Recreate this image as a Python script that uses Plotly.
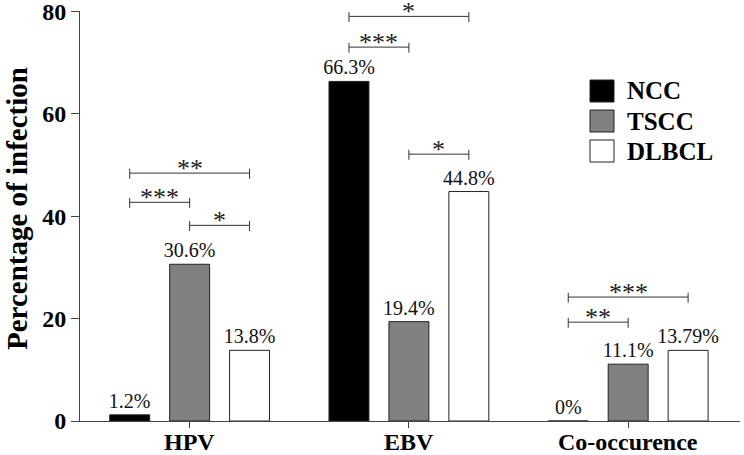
import plotly.graph_objects as go

categories = ["HPV", "EBV", "Co-occurence"]
series_names = ["NCC", "TSCC", "DLBCL"]
ncc = [1.2, 66.3, 0.0]
tscc = [30.6, 19.4, 11.1]
dlbcl = [13.8, 44.8, 13.79]
ncc_labels = ["1.2%", "66.3%", "0%"]
tscc_labels = ["30.6%", "19.4%", "11.1%"]
dlbcl_labels = ["13.8%", "44.8%", "13.79%"]
colors = ["#000000", "#808080", "#ffffff"]

# significance brackets: (category index, from series, to series, y level, stars)
brackets = [
    (0, 0, 2, 48.4, "**"),
    (0, 0, 1, 42.7, "***"),
    (0, 1, 2, 38.2, "*"),
    (1, 0, 2, 79.0, "*"),
    (1, 0, 1, 73.0, "***"),
    (1, 1, 2, 52.1, "*"),
    (2, 0, 2, 24.2, "***"),
    (2, 0, 1, 19.3, "**"),
]

FONT = "Liberation Serif, Times New Roman, serif"
BARGAP = 0.18
BARGROUPGAP = 1 / 3
slot = (1 - BARGAP) / 3

fig = go.Figure()
all_vals = [ncc, tscc, dlbcl]
all_labels = [ncc_labels, tscc_labels, dlbcl_labels]
for name, vals, labs, col in zip(series_names, all_vals, all_labels, colors):
    fig.add_trace(go.Bar(
        x=list(range(len(categories))), y=vals, name=name,
        marker=dict(color=col, line=dict(color="#222222", width=1)),
        text=labs, textposition="outside", constraintext="none",
        textfont=dict(family=FONT, size=20, color="#111111"),
        cliponaxis=False, showlegend=False,
    ))

shapes = []
annotations = []
for ci, a, b, yv, stars in brackets:
    x0 = ci + (a - 1) * slot
    x1 = ci + (b - 1) * slot
    line = dict(color="#333333", width=1)
    shapes.append(dict(type="line", xref="x", yref="y", x0=x0, x1=x1, y0=yv, y1=yv, line=line))
    for xx in (x0, x1):
        shapes.append(dict(type="line", xref="x", yref="y", x0=xx, x1=xx, y0=yv + 0.85, y1=yv - 1.1, line=line))
    annotations.append(dict(x=(x0 + x1) / 2, y=yv, xref="x", yref="y", text=stars,
                            showarrow=False, yanchor="bottom", yshift=-12,
                            font=dict(family=FONT, size=26, color="#222222")))

# category labels under the axis
for i, c in enumerate(categories):
    annotations.append(dict(x=i, y=0, xref="x", yref="paper", text=f"<b>{c}</b>",
                            showarrow=False, yanchor="top", yshift=-6,
                            font=dict(family=FONT, size=24, color="#000000")))

# manual legend (pixel layout converted to paper coords)
L, R, T, B = 80, 740, 11, 421
def px(x):
    return (x - L) / (R - L)
def py(y):
    return (B - y) / (B - T)
for i, (name, col) in enumerate(zip(series_names, colors)):
    yc = 91 + 30 * i
    shapes.append(dict(type="rect", xref="paper", yref="paper",
                       x0=px(590), x1=px(614), y0=py(yc + 11), y1=py(yc - 11),
                       fillcolor=col, line=dict(color="#222222", width=1)))
    annotations.append(dict(x=px(625), y=py(yc), xref="paper", yref="paper", text=f"<b>{name}</b>",
                            showarrow=False, xanchor="left", yanchor="middle",
                            font=dict(family=FONT, size=25, color="#000000")))

# y-axis title
annotations.append(dict(x=px(17), y=py(209), xref="paper", yref="paper",
                        text="<b>Percentage of infection</b>", textangle=-90,
                        showarrow=False, xanchor="center", yanchor="middle",
                        font=dict(family=FONT, size=29, color="#000000")))

fig.update_layout(
    width=744, height=455,
    margin=dict(l=L, r=744 - R, t=T, b=455 - B),
    paper_bgcolor="white", plot_bgcolor="white",
    bargap=BARGAP, bargroupgap=BARGROUPGAP, barmode="group",
    shapes=shapes, annotations=annotations,
    font=dict(family=FONT, color="#000000"),
)
fig.update_xaxes(
    tickmode="array", tickvals=list(range(len(categories))),
    showticklabels=False,
    range=[-0.5, 2.51], showline=True, linecolor="#444444", linewidth=1,
    ticks="outside", ticklen=6, tickcolor="#444444",
    showgrid=False, zeroline=False, automargin=False,
)
fig.update_yaxes(
    range=[0, 80.05], tickvals=[0, 20, 40, 60, 80],
    ticktext=["<b>0</b>", "<b>20</b>", "<b>40</b>", "<b>60</b>", "<b>80</b>"],
    showline=True, linecolor="#444444", linewidth=1,
    ticks="outside", ticklen=8, tickcolor="#444444",
    tickfont=dict(family=FONT, size=24, color="#000000"),
    showgrid=False, zeroline=False, automargin=False, ticklabeloverflow="allow",
)

fig.write_html("out.html", config={"displayModeBar": False},
               post_script="document.body.style.margin='0';document.body.style.overflow='hidden';")
